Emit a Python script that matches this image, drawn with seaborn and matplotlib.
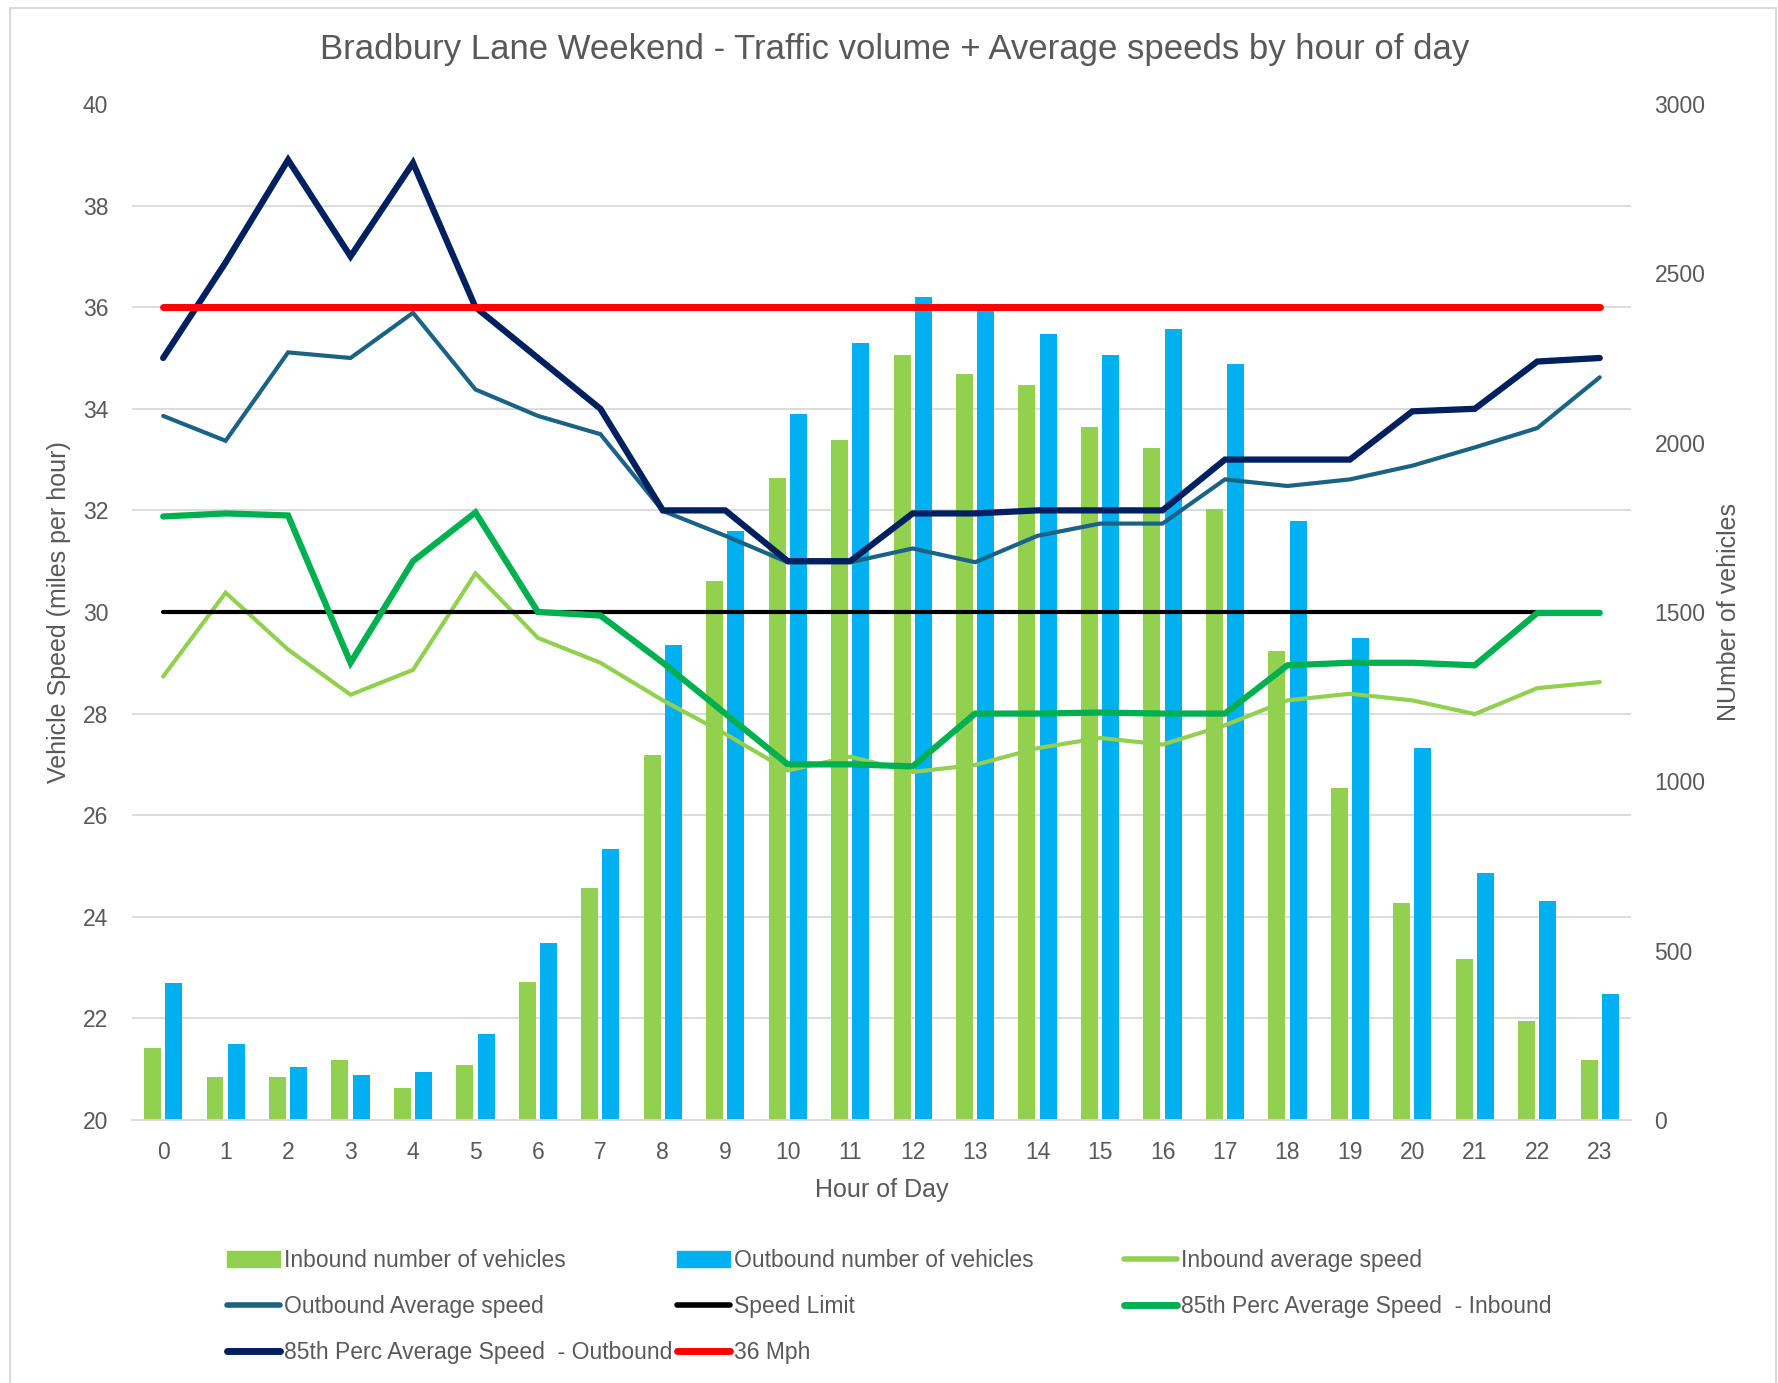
import numpy as np
import pandas as pd
import matplotlib.pyplot as plt
import seaborn as sns
from matplotlib.lines import Line2D
from matplotlib.patches import Patch, Rectangle
from matplotlib.ticker import MultipleLocator

# ------------------------------------------
# data
# ------------------------------------------
hours = list(range(24))

inbound_vehicles = [211, 127, 127, 177, 94, 161, 408, 686, 1078, 1590, 1895, 2009,
                    2260, 2203, 2170, 2046, 1985, 1805, 1386, 981, 640, 475, 291, 177]
outbound_vehicles = [405, 224, 157, 134, 141, 254, 522, 800, 1403, 1738, 2086, 2293,
                     2431, 2404, 2320, 2260, 2337, 2233, 1768, 1423, 1098, 730, 646, 372]

inbound_avg_speed = [28.73, 30.38, 29.26, 28.37, 28.86, 30.76, 29.49, 29.0, 28.26, 27.6, 26.88, 27.15,
                     26.85, 26.99, 27.32, 27.52, 27.39, 27.77, 28.26, 28.39, 28.26, 27.99, 28.5, 28.62]
outbound_avg_speed = [33.86, 33.37, 35.11, 35.0, 35.89, 34.38, 33.86, 33.5, 31.99, 31.5, 30.98, 30.98,
                      31.25, 30.98, 31.5, 31.74, 31.74, 32.61, 32.48, 32.61, 32.88, 33.24, 33.62, 34.62]
speed_limit = [30] * 24
inbound_85th = [31.88, 31.94, 31.9, 29.0, 31.0, 31.96, 30.0, 29.93, 29.0, 28.0, 27.0, 27.0,
                26.96, 28.0, 28.0, 28.02, 28.0, 28.0, 28.95, 29.0, 29.0, 28.95, 29.98, 29.98]
outbound_85th = [35.0, 36.88, 38.9, 37.0, 38.84, 36.0, 35.0, 34.0, 32.0, 32.0, 31.0, 31.0,
                 31.94, 31.94, 32.0, 32.0, 32.0, 33.0, 33.0, 33.0, 33.95, 34.0, 34.93, 35.0]
mph_36 = [36] * 24

LBL_IN_N = 'Inbound number of vehicles'
LBL_OUT_N = 'Outbound number of vehicles'

# colours
C_IN_BAR = '#92D050'
C_OUT_BAR = '#00B0F0'
C_IN_AVG = '#92D050'
C_OUT_AVG = '#1B6384'
C_LIMIT = '#000000'
C_IN_85 = '#00B050'
C_OUT_85 = '#002060'
C_36 = '#FF0000'
GREY_TEXT = '#595959'
GRID = '#D9D9D9'

TICK_FS = 16.5
LEG_FS = 16.5
LABEL_FS = 18

sns.set_theme(style='white')
plt.rcParams['font.family'] = ['Liberation Sans', 'DejaVu Sans']

fig = plt.figure(figsize=(17.78, 13.83), dpi=100)
ax = fig.add_axes([0.0742, 0.1902, 0.8431, 0.7346])

# --- bars (vehicle counts, right axis) ---
counts = pd.DataFrame({
    'hour': hours * 2,
    'vehicles': inbound_vehicles + outbound_vehicles,
    'series': [LBL_IN_N] * 24 + [LBL_OUT_N] * 24,
})
sns.barplot(data=counts, x='hour', y='vehicles', hue='series',
            palette=[C_IN_BAR, C_OUT_BAR], saturation=1, width=0.68, gap=0.2,
            errorbar=None, legend=False, linewidth=0, ax=ax)

# --- speed lines (left axis) ---
ax2 = ax.twinx()
line_specs = [
    (inbound_avg_speed, C_IN_AVG, 3.0),
    (outbound_avg_speed, C_OUT_AVG, 3.0),
    (speed_limit, C_LIMIT, 3.0),
    (inbound_85th, C_IN_85, 4.5),
    (outbound_85th, C_OUT_85, 4.5),
    (mph_36, C_36, 5.0),
]
for vals, col, lw in line_specs:
    sns.lineplot(x=hours, y=vals, color=col, linewidth=lw, ax=ax2,
                 solid_capstyle='round', solid_joinstyle='miter')

# bar axis styling (after twinx, which moves ticks to the left)
ax.set_ylim(0, 3000)
ax.yaxis.set_major_locator(MultipleLocator(500))
ax.yaxis.set_minor_locator(MultipleLocator(300))
ax.yaxis.tick_right()
ax.grid(axis='y', which='minor', color=GRID, lw=1.3)
ax.set_axisbelow(True)
ax.tick_params(axis='both', which='both', length=0, labelsize=TICK_FS, labelcolor=GREY_TEXT)
ax.tick_params(axis='y', pad=17)
ax.tick_params(axis='x', pad=15)
ax.set_xlabel('')
ax.set_ylabel('')
for s in ['top', 'left', 'right']:
    ax.spines[s].set_visible(False)
ax.spines['bottom'].set_color(GRID)
ax.spines['bottom'].set_linewidth(1.3)

ax2.set_ylim(20, 40)
ax2.yaxis.set_major_locator(MultipleLocator(2))
ax2.yaxis.tick_left()
ax2.tick_params(axis='y', length=0, labelsize=TICK_FS, labelcolor=GREY_TEXT, pad=17)
ax2.set_ylabel('')
for s in ['top', 'left', 'right', 'bottom']:
    ax2.spines[s].set_visible(False)
ax.set_xlim(-0.5, 23.5)

# --- texts ---
fig.text(0.503, 0.9645, 'Bradbury Lane Weekend - Traffic volume + Average speeds by hour of day',
         ha='center', va='center', fontsize=25, color=GREY_TEXT)
fig.text(0.0332, 0.5575, 'Vehicle Speed (miles per hour)', rotation=90,
         ha='center', va='center', fontsize=LABEL_FS, color=GREY_TEXT)
fig.text(0.9724, 0.5575, 'NUmber of vehicles', rotation=90,
         ha='center', va='center', fontsize=LABEL_FS, color=GREY_TEXT)
fig.text(0.4958, 0.1396, 'Hour of Day', ha='center', va='center', fontsize=LABEL_FS, color=GREY_TEXT)

# --- legend: three columns placed like the original ---
def lh(col, lw):
    return Line2D([0], [0], color=col, lw=lw, solid_capstyle='round')

legend_cols = [
    (0.1277, [Patch(color=C_IN_BAR), lh(C_OUT_AVG, 4), lh(C_OUT_85, 5)],
     [LBL_IN_N, 'Outbound Average speed', '85th Perc Average Speed  - Outbound']),
    (0.3808, [Patch(color=C_OUT_BAR), lh(C_LIMIT, 4), lh(C_36, 5)],
     [LBL_OUT_N, 'Speed Limit', '36 Mph']),
    (0.6322, [lh(C_IN_AVG, 4), lh(C_IN_85, 5)],
     ['Inbound average speed', '85th Perc Average Speed  - Inbound']),
]
for x0, handles, labels in legend_cols:
    leg = fig.legend(handles, labels, loc='upper left', bbox_to_anchor=(x0, 0.0968),
                     frameon=False, fontsize=LEG_FS, handlelength=2.3, handletextpad=0.2,
                     labelspacing=1.0, borderpad=0, borderaxespad=0)
    for t in leg.get_texts():
        t.set_color(GREY_TEXT)

# chart-area border
fig.patches.append(Rectangle((10 / 1778, -0.01), 1766 / 1778, 1 - 8 / 1383 + 0.01,
                             transform=fig.transFigure, fill=False,
                             edgecolor=GRID, lw=1.5))

fig.savefig('out.png', dpi=100)
